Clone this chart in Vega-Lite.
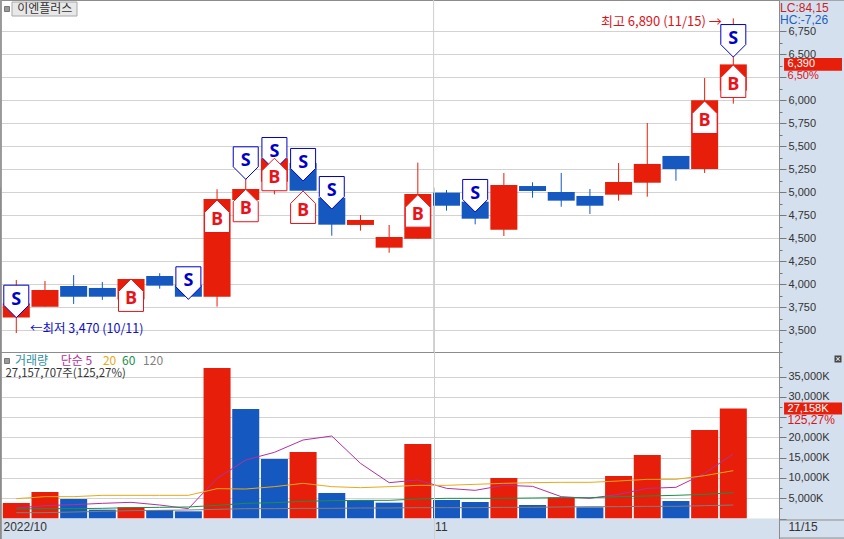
{"$schema":"https://vega.github.io/schema/vega-lite/v6.json","autosize":{"type":"none"},"padding":{"left":0,"top":0,"right":65,"bottom":0},"width":779,"height":539,"background":"#d5e0ee","config":{"view":{"fill":"white","stroke":"#8c8c8c"},"font":"Liberation Sans","text":{"font":"Liberation Sans","fontSize":12,"align":"left","baseline":"middle"}},
"datasets":{"candles":[
{"session":0,"date":"10/11","open":3640,"close":3790,"high":4047,"low":3470,"kind":"up","lo":3640,"hi":3790},
{"session":1,"date":"10/12","open":3757,"close":3938,"high":4036,"low":3757,"kind":"up","lo":3757,"hi":3938},
{"session":2,"date":"10/13","open":3981,"close":3865,"high":4100,"low":3786,"kind":"down","lo":3865,"hi":3981},
{"session":3,"date":"10/14","open":3960,"close":3865,"high":4025,"low":3830,"kind":"down","lo":3865,"hi":3960},
{"session":4,"date":"10/17","open":3835,"close":4058,"high":4058,"low":3800,"kind":"up","lo":3835,"hi":4058},
{"session":5,"date":"10/18","open":4090,"close":3985,"high":4120,"low":3952,"kind":"down","lo":3985,"hi":4090},
{"session":6,"date":"10/19","open":3990,"close":3865,"high":3990,"low":3835,"kind":"down","lo":3865,"hi":3990},
{"session":7,"date":"10/20","open":3865,"close":4927,"high":5033,"low":3757,"kind":"up","lo":3865,"hi":4927},
{"session":8,"date":"10/21","open":4916,"close":5036,"high":5145,"low":4916,"kind":"up","lo":4916,"hi":5036},
{"session":9,"date":"10/24","open":5115,"close":5370,"high":5400,"low":4978,"kind":"up","lo":5115,"hi":5370},
{"session":10,"date":"10/25","open":5318,"close":5017,"high":5318,"low":5017,"kind":"down","lo":5017,"hi":5318},
{"session":11,"date":"10/26","open":4941,"close":4648,"high":4941,"low":4528,"kind":"down","lo":4648,"hi":4941},
{"session":12,"date":"10/27","open":4645,"close":4699,"high":4753,"low":4583,"kind":"up","lo":4645,"hi":4699},
{"session":13,"date":"10/28","open":4398,"close":4514,"high":4645,"low":4343,"kind":"up","lo":4398,"hi":4514},
{"session":14,"date":"10/31","open":4496,"close":4982,"high":5322,"low":4496,"kind":"up","lo":4496,"hi":4982},
{"session":15,"date":"11/01","open":4996,"close":4854,"high":5025,"low":4800,"kind":"down","lo":4854,"hi":4996},
{"session":16,"date":"11/02","open":4898,"close":4713,"high":4898,"low":4652,"kind":"down","lo":4713,"hi":4898},
{"session":17,"date":"11/03","open":4593,"close":5079,"high":5210,"low":4525,"kind":"up","lo":4593,"hi":5079},
{"session":18,"date":"11/04","open":5068,"close":5014,"high":5109,"low":4941,"kind":"down","lo":5014,"hi":5068},
{"session":19,"date":"11/07","open":5003,"close":4909,"high":5210,"low":4843,"kind":"down","lo":4909,"hi":5003},
{"session":20,"date":"11/08","open":4960,"close":4854,"high":5036,"low":4764,"kind":"down","lo":4854,"hi":4960},
{"session":21,"date":"11/09","open":4974,"close":5112,"high":5318,"low":4909,"kind":"up","lo":4974,"hi":5112},
{"session":22,"date":"11/10","open":5104,"close":5308,"high":5753,"low":4952,"kind":"up","lo":5104,"hi":5308},
{"session":23,"date":"11/11","open":5395,"close":5253,"high":5395,"low":5126,"kind":"down","lo":5253,"hi":5395},
{"session":24,"date":"11/14","open":5253,"close":6000,"high":6242,"low":5210,"kind":"up","lo":5253,"hi":6000},
{"session":25,"date":"11/15","open":6105,"close":6390,"high":6890,"low":5963,"kind":"up","lo":6105,"hi":6390}],
"sell":[{"session":0,"price":3637,"signal":"S"},{"session":6,"price":3837,"signal":"S"},{"session":8,"price":5141,"signal":"S"},{"session":9,"price":5242,"signal":"S"},{"session":10,"price":5123,"signal":"S"},{"session":11,"price":4818,"signal":"S"},{"session":16,"price":4786,"signal":"S"},{"session":25,"price":6470,"signal":"S"}],
"buy":[{"session":4,"price":4058,"signal":"B"},{"session":7,"price":4916,"signal":"B"},{"session":8,"price":5033,"signal":"B"},{"session":9,"price":5370,"signal":"B"},{"session":10,"price":5014,"signal":"B"},{"session":14,"price":4974,"signal":"B"},{"session":24,"price":5992,"signal":"B"},{"session":25,"price":6384,"signal":"B"}],
"volume":[
{"session":0,"vol":3827,"kind":"up"},{"session":1,"vol":6543,"kind":"up"},{"session":2,"vol":4815,"kind":"down"},{"session":3,"vol":2180,"kind":"down"},{"session":4,"vol":2754,"kind":"up"},{"session":5,"vol":2099,"kind":"down"},{"session":6,"vol":1770,"kind":"down"},{"session":7,"vol":37160,"kind":"up"},{"session":8,"vol":27037,"kind":"down"},{"session":9,"vol":14691,"kind":"down"},{"session":10,"vol":16420,"kind":"up"},{"session":11,"vol":6296,"kind":"down"},{"session":12,"vol":4568,"kind":"down"},{"session":13,"vol":3909,"kind":"down"},{"session":14,"vol":18395,"kind":"up"},{"session":15,"vol":4568,"kind":"down"},{"session":16,"vol":4074,"kind":"down"},{"session":17,"vol":10000,"kind":"up"},{"session":18,"vol":3333,"kind":"down"},{"session":19,"vol":5226,"kind":"up"},{"session":20,"vol":2765,"kind":"down"},{"session":21,"vol":10494,"kind":"up"},{"session":22,"vol":15679,"kind":"up"},{"session":23,"vol":4321,"kind":"down"},{"session":24,"vol":21852,"kind":"up"},{"session":25,"vol":27157,"kind":"up"}],
"ma":[
{"session":0,"kind":"5","vol":2593},{"session":1,"kind":"5","vol":3169},{"session":2,"kind":"5","vol":3416},{"session":3,"kind":"5","vol":3745},{"session":4,"kind":"5","vol":3992},{"session":5,"kind":"5","vol":3333},{"session":6,"kind":"5","vol":2428},{"session":7,"kind":"5","vol":9918},{"session":8,"kind":"5","vol":14444},{"session":9,"kind":"5","vol":16337},{"session":10,"kind":"5","vol":19383},{"session":11,"kind":"5","vol":20370},{"session":12,"kind":"5","vol":13621},{"session":13,"kind":"5","vol":8848},{"session":14,"kind":"5","vol":9506},{"session":15,"kind":"5","vol":7449},{"session":16,"kind":"5","vol":6955},{"session":17,"kind":"5","vol":8189},{"session":18,"kind":"5","vol":7942},{"session":19,"kind":"5","vol":5391},{"session":20,"kind":"5","vol":4979},{"session":21,"kind":"5","vol":5967},{"session":22,"kind":"5","vol":7449},{"session":23,"kind":"5","vol":7695},{"session":24,"kind":"5","vol":11152},{"session":25,"kind":"5","vol":15926},
{"session":0,"kind":"20","vol":4897},{"session":1,"kind":"20","vol":5391},{"session":2,"kind":"20","vol":5391},{"session":3,"kind":"20","vol":5720},{"session":4,"kind":"20","vol":5720},{"session":5,"kind":"20","vol":5720},{"session":6,"kind":"20","vol":5720},{"session":7,"kind":"20","vol":7366},{"session":8,"kind":"20","vol":7284},{"session":9,"kind":"20","vol":7860},{"session":10,"kind":"20","vol":8683},{"session":11,"kind":"20","vol":7860},{"session":12,"kind":"20","vol":7613},{"session":13,"kind":"20","vol":7860},{"session":14,"kind":"20","vol":8189},{"session":15,"kind":"20","vol":8189},{"session":16,"kind":"20","vol":8436},{"session":17,"kind":"20","vol":8683},{"session":18,"kind":"20","vol":8848},{"session":19,"kind":"20","vol":8930},{"session":20,"kind":"20","vol":8930},{"session":21,"kind":"20","vol":9259},{"session":22,"kind":"20","vol":9671},{"session":23,"kind":"20","vol":9671},{"session":24,"kind":"20","vol":10576},{"session":25,"kind":"20","vol":11811},
{"session":0,"kind":"60","vol":2346},{"session":1,"kind":"60","vol":2428},{"session":2,"kind":"60","vol":2428},{"session":3,"kind":"60","vol":2510},{"session":4,"kind":"60","vol":2675},{"session":5,"kind":"60","vol":2757},{"session":6,"kind":"60","vol":2840},{"session":7,"kind":"60","vol":3251},{"session":8,"kind":"60","vol":3745},{"session":9,"kind":"60","vol":3910},{"session":10,"kind":"60","vol":4239},{"session":11,"kind":"60","vol":4403},{"session":12,"kind":"60","vol":4486},{"session":13,"kind":"60","vol":4486},{"session":14,"kind":"60","vol":4815},{"session":15,"kind":"60","vol":4979},{"session":16,"kind":"60","vol":4979},{"session":17,"kind":"60","vol":4979},{"session":18,"kind":"60","vol":5062},{"session":19,"kind":"60","vol":5144},{"session":20,"kind":"60","vol":5144},{"session":21,"kind":"60","vol":5391},{"session":22,"kind":"60","vol":5556},{"session":23,"kind":"60","vol":5720},{"session":24,"kind":"60","vol":5967},{"session":25,"kind":"60","vol":6379},
{"session":0,"kind":"120","vol":1440},{"session":1,"kind":"120","vol":1440},{"session":2,"kind":"120","vol":1605},{"session":3,"kind":"120","vol":1770},{"session":4,"kind":"120","vol":1934},{"session":5,"kind":"120","vol":2017},{"session":6,"kind":"120","vol":2099},{"session":7,"kind":"120","vol":2263},{"session":8,"kind":"120","vol":2428},{"session":9,"kind":"120","vol":2428},{"session":10,"kind":"120","vol":2510},{"session":11,"kind":"120","vol":2510},{"session":12,"kind":"120","vol":2593},{"session":13,"kind":"120","vol":2593},{"session":14,"kind":"120","vol":2675},{"session":15,"kind":"120","vol":2675},{"session":16,"kind":"120","vol":2675},{"session":17,"kind":"120","vol":2757},{"session":18,"kind":"120","vol":2757},{"session":19,"kind":"120","vol":2840},{"session":20,"kind":"120","vol":2922},{"session":21,"kind":"120","vol":2922},{"session":22,"kind":"120","vol":3004},{"session":23,"kind":"120","vol":3004},{"session":24,"kind":"120","vol":3169},{"session":25,"kind":"120","vol":3333}],
"legendText":[{"session":-0.045,"vol":38889,"kind":"거래량","label":"거래량"},{"session":1.55,"vol":38889,"kind":"5","label":"단순 5"},{"session":3.02,"vol":38889,"kind":"20","label":"20"},{"session":3.69,"vol":38889,"kind":"60","label":"60"},{"session":4.42,"vol":38889,"kind":"120","label":"120"}]},
"layer":[
{"encoding":{"x":{"field":"session","type":"quantitative","scale":{"domain":[-0.568,26.593],"nice":false,"zero":false,"padding":0},"axis":{"title":null,"orient":"bottom","domain":false,"ticks":false,"zindex":1,"tickCount":100,"values":[14.55,26.593,-0.568],"labelExpr":"datum.value<0?'2022/10':(datum.value<20?'11':'11/15')","labelAlign":"left","labelBaseline":"top","labelPadding":-18,"labelBound":false,"labelFlush":false,"labelOverlap":false,"labelFontSize":12,"labelColor":"#333","labelFont":"Liberation Sans","labelOffset":{"condition":[{"test":"datum.value<0","value":3},{"test":"datum.value<20","value":1}],"value":9},"grid":true,"gridColor":{"condition":{"test":"datum.value>0&&datum.value<20","value":"#cfcfcf"},"value":"#8c8c8c"}}}},
"layer":[
{"data":{"name":"candles"},"mark":{"type":"rule","strokeWidth":1},"encoding":{"y":{"field":"low","type":"quantitative","scale":{"domain":[3264,7090],"range":[352,0],"nice":false,"zero":false},"axis":{"title":null,"orient":"right","domain":false,"grid":true,"tickCount":100,"values":[3264,3375,3500,3625,3750,3875,4000,4125,4250,4375,4500,4625,4750,4875,5000,5125,5250,5375,5500,5625,5750,5875,6000,6125,6250,6375,6500,6625,6750],"gridColor":{"condition":{"test":"datum.value==3264","value":"#8c8c8c"},"value":"#d2d2d2"},"gridOpacity":{"condition":{"test":"datum.value%250==0||datum.value==3264","value":1},"value":0},"tickColor":"#777","tickSize":{"condition":{"test":"datum.value%250==0","value":7},"value":3},"labelPadding":2,"labelExpr":"(datum.value%250==0&&datum.value!=6250)?format(datum.value,','):''","labelFontSize":11,"labelColor":"#333","labelOverlap":false,"labelBound":false,"labelFont":"Liberation Sans"}},"y2":{"field":"high"},"color":{"field":"kind","type":"nominal","legend":null,"scale":{"domain":["up","down","거래량","5","20","60","120"],"range":["#e61e0a","#1558c0","#2f8f9f","#b3309f","#e8a91a","#1c8f4a","#7f7f7f"]}}}},
{"data":{"values":[{"session":14.55,"lo":3264,"hi":7090}]},"mark":{"type":"rule","stroke":"#cfcfcf","strokeWidth":1},"encoding":{"y":{"field":"lo","type":"quantitative"},"y2":{"field":"hi"}}},
{"data":{"name":"candles"},"mark":{"type":"bar","size":27,"orient":"vertical"},"encoding":{"y":{"field":"lo","type":"quantitative"},"y2":{"field":"hi"},"color":{"field":"kind","type":"nominal","legend":null}}},
{"data":{"name":"sell"},"mark":{"type":"point","filled":true,"fill":"white","stroke":"#0000c8","strokeWidth":1,"opacity":1,"size":625,"shape":"M0,0L-1,-1L-1,-2.6L1,-2.6L1,-1Z"},"encoding":{"y":{"field":"price","type":"quantitative"}}},
{"data":{"name":"sell"},"mark":{"type":"text","align":"center","dy":-18,"font":"Open Sans","fontWeight":"bold","fontSize":18,"fill":"#0000c8"},"encoding":{"y":{"field":"price","type":"quantitative"},"text":{"field":"signal"}}},
{"data":{"name":"buy"},"mark":{"type":"point","filled":true,"fill":"white","stroke":"#e8141c","strokeWidth":1,"opacity":1,"size":625,"shape":"M0,0L1,1L1,2.6L-1,2.6L-1,1Z"},"encoding":{"y":{"field":"price","type":"quantitative"}}},
{"data":{"name":"buy"},"mark":{"type":"text","align":"center","dy":20,"font":"Open Sans","fontWeight":"bold","fontSize":18,"fill":"#e8141c"},"encoding":{"y":{"field":"price","type":"quantitative"},"text":{"field":"signal"}}},
{"data":{"values":[{"session":-0.15,"to":2.117,"lo":6916,"hi":7068}]},"mark":{"type":"bar","orient":"vertical","fill":"#e8e8e8","stroke":"#a8a8a8","strokeWidth":1},"encoding":{"x":{"field":"session","type":"quantitative"},"x2":{"field":"to"},"y":{"field":"lo","type":"quantitative"},"y2":{"field":"hi"}}},
{"data":{"values":[{"session":0.03,"price":6992,"label":"이엔플러스"}]},"mark":{"type":"text","font":"Noto Sans CJK KR","fontSize":12,"fill":"#333"},"encoding":{"y":{"field":"price","type":"quantitative"},"text":{"field":"label"}}},
{"data":{"values":[{"session":-0.324,"price":6992}]},"mark":{"type":"point","shape":"square","filled":true,"fill":"#999","stroke":"#777","strokeWidth":1,"opacity":1,"size":25},"encoding":{"y":{"field":"price","type":"quantitative"}}},
{"data":{"values":[{"session":24.6,"price":6851,"label":"최고 6,890 (11/15) →"}]},"mark":{"type":"text","align":"right","font":"Noto Sans CJK KR","fontSize":13,"fill":"#d8141c"},"encoding":{"y":{"field":"price","type":"quantitative"},"text":{"field":"label"}}},
{"data":{"values":[{"session":0.478,"price":3514,"label":"←최저 3,470 (10/11)"}]},"mark":{"type":"text","font":"Noto Sans CJK KR","fontSize":12.5,"fill":"#1010c8"},"encoding":{"y":{"field":"price","type":"quantitative"},"text":{"field":"label"}}},
{"data":{"values":[{"session":-0.568,"to":-0.5,"lo":3264,"hi":7090}]},"mark":{"type":"bar","orient":"vertical","fill":"#999999"},"encoding":{"x":{"field":"session","type":"quantitative"},"x2":{"field":"to"},"y":{"field":"lo","type":"quantitative"},"y2":{"field":"hi"}}},
{"data":{"values":[{"session":26.593,"to":29,"price":7088}]},"mark":{"type":"rule","stroke":"#8c8c8c"},"encoding":{"x":{"field":"session","type":"quantitative"},"x2":{"field":"to"},"y":{"field":"price","type":"quantitative"}}},
{"data":{"values":[{"session":26.77,"to":28.79,"lo":6320,"hi":6460}]},"mark":{"type":"bar","orient":"vertical","fill":"#e61e0a"},"encoding":{"x":{"field":"session","type":"quantitative"},"x2":{"field":"to"},"y":{"field":"lo","type":"quantitative"},"y2":{"field":"hi"}}},
{"data":{"values":[{"session":26.89,"price":6390,"label":"6,390"}]},"mark":{"type":"text","fill":"white","fontSize":11},"encoding":{"y":{"field":"price","type":"quantitative"},"text":{"field":"label"}}},
{"data":{"values":[{"session":26.89,"price":6264,"label":"6,50%"}]},"mark":{"type":"text","fill":"#d8141c","fontSize":11},"encoding":{"y":{"field":"price","type":"quantitative"},"text":{"field":"label"}}},
{"data":{"values":[{"session":26.63,"price":7003,"label":"LC:84,15"}]},"mark":{"type":"text","fill":"#c81e28","fontSize":12},"encoding":{"y":{"field":"price","type":"quantitative"},"text":{"field":"label"}}},
{"data":{"values":[{"session":26.63,"price":6873,"label":"HC:-7,26"}]},"mark":{"type":"text","fill":"#2060c0","fontSize":12},"encoding":{"y":{"field":"price","type":"quantitative"},"text":{"field":"label"}}}
]},
{"encoding":{"x":{"field":"session","type":"quantitative"}},
"layer":[
{"data":{"name":"volume"},"mark":{"type":"bar","size":27,"orient":"vertical"},"encoding":{"y":{"field":"vol","type":"quantitative","stack":null,"scale":{"domain":[0,40864],"range":[518.5,353],"nice":false,"zero":false},"axis":{"title":null,"orient":"right","domain":false,"grid":true,"tickCount":100,"values":[0,2500,5000,7500,10000,12500,15000,17500,20000,22500,25000,27500,30000,32500,35000,37500],"gridColor":{"condition":{"test":"datum.value==0","value":"#8c8c8c"},"value":"#d2d2d2"},"gridOpacity":{"condition":{"test":"datum.value%5000==0","value":1},"value":0},"tickColor":"#777","tickSize":{"condition":{"test":"datum.value%5000==0","value":7},"value":3},"labelPadding":2,"labelExpr":"(datum.value%5000==0&&datum.value>0&&datum.value!=25000)?format(datum.value,',')+'K':''","labelFontSize":11,"labelColor":"#333","labelOverlap":false,"labelBound":false,"labelFont":"Liberation Sans"}},"color":{"field":"kind","type":"nominal","legend":null}}},
{"data":{"name":"ma"},"mark":{"type":"line","strokeWidth":1,"interpolate":"linear"},"encoding":{"y":{"field":"vol","type":"quantitative"},"color":{"field":"kind","type":"nominal","legend":null},"order":{"field":"session"}}},
{"data":{"values":[{"session":-0.568,"to":26.593,"lo":-5300,"hi":0}]},"mark":{"type":"bar","orient":"vertical","fill":"#d5e0ee"},"encoding":{"x":{"field":"session","type":"quantitative"},"x2":{"field":"to"},"y":{"field":"lo","type":"quantitative"},"y2":{"field":"hi"}}},
{"data":{"values":[{"session":-0.568,"to":-0.5,"lo":-5300,"hi":40864}]},"mark":{"type":"bar","orient":"vertical","fill":"#999999"},"encoding":{"x":{"field":"session","type":"quantitative"},"x2":{"field":"to"},"y":{"field":"lo","type":"quantitative"},"y2":{"field":"hi"}}},
{"data":{"values":[{"session":26.593,"to":29,"vol":-370},{"session":26.593,"to":29,"vol":-4830}]},"mark":{"type":"rule","stroke":"#8c8c8c"},"encoding":{"x":{"field":"session","type":"quantitative"},"x2":{"field":"to"},"y":{"field":"vol","type":"quantitative"}}},
{"data":{"name":"legendText"},"mark":{"type":"text","font":"Noto Sans CJK KR","fontSize":12},"encoding":{"y":{"field":"vol","type":"quantitative"},"text":{"field":"label"},"color":{"field":"kind","type":"nominal","legend":null}}},
{"data":{"values":[{"session":-0.324,"vol":38889}]},"mark":{"type":"point","shape":"square","filled":true,"fill":"#999","stroke":"#777","strokeWidth":1,"opacity":1,"size":25},"encoding":{"y":{"field":"vol","type":"quantitative"}}},
{"data":{"values":[{"session":-0.38,"vol":35600,"label":"27,157,707주(125,27%)"}]},"mark":{"type":"text","font":"Noto Sans CJK KR","fontSize":11.4,"fill":"#333"},"encoding":{"y":{"field":"vol","type":"quantitative"},"text":{"field":"label"}}},
{"data":{"values":[{"session":26.77,"to":28.79,"lo":25660,"hi":28660}]},"mark":{"type":"bar","orient":"vertical","fill":"#e61e0a"},"encoding":{"x":{"field":"session","type":"quantitative"},"x2":{"field":"to"},"y":{"field":"lo","type":"quantitative"},"y2":{"field":"hi"}}},
{"data":{"values":[{"session":26.89,"vol":27160,"label":"27,158K"}]},"mark":{"type":"text","fill":"white","fontSize":11},"encoding":{"y":{"field":"vol","type":"quantitative"},"text":{"field":"label"}}},
{"data":{"values":[{"session":26.89,"vol":24400,"label":"125,27%"}]},"mark":{"type":"text","fill":"#d8141c","fontSize":12},"encoding":{"y":{"field":"vol","type":"quantitative"},"text":{"field":"label"}}},
{"data":{"values":[{"session":28.65,"vol":39383}]},"mark":{"type":"point","shape":"square","filled":true,"fill":"#444","opacity":1,"size":49},"encoding":{"y":{"field":"vol","type":"quantitative"}}},
{"data":{"values":[{"session":28.65,"vol":39383,"label":"×"}]},"mark":{"type":"text","align":"center","fill":"white","fontSize":9},"encoding":{"y":{"field":"vol","type":"quantitative"},"text":{"field":"label"}}}
]}],
"resolve":{"scale":{"y":"independent"},"axis":{"y":"independent"}}}
